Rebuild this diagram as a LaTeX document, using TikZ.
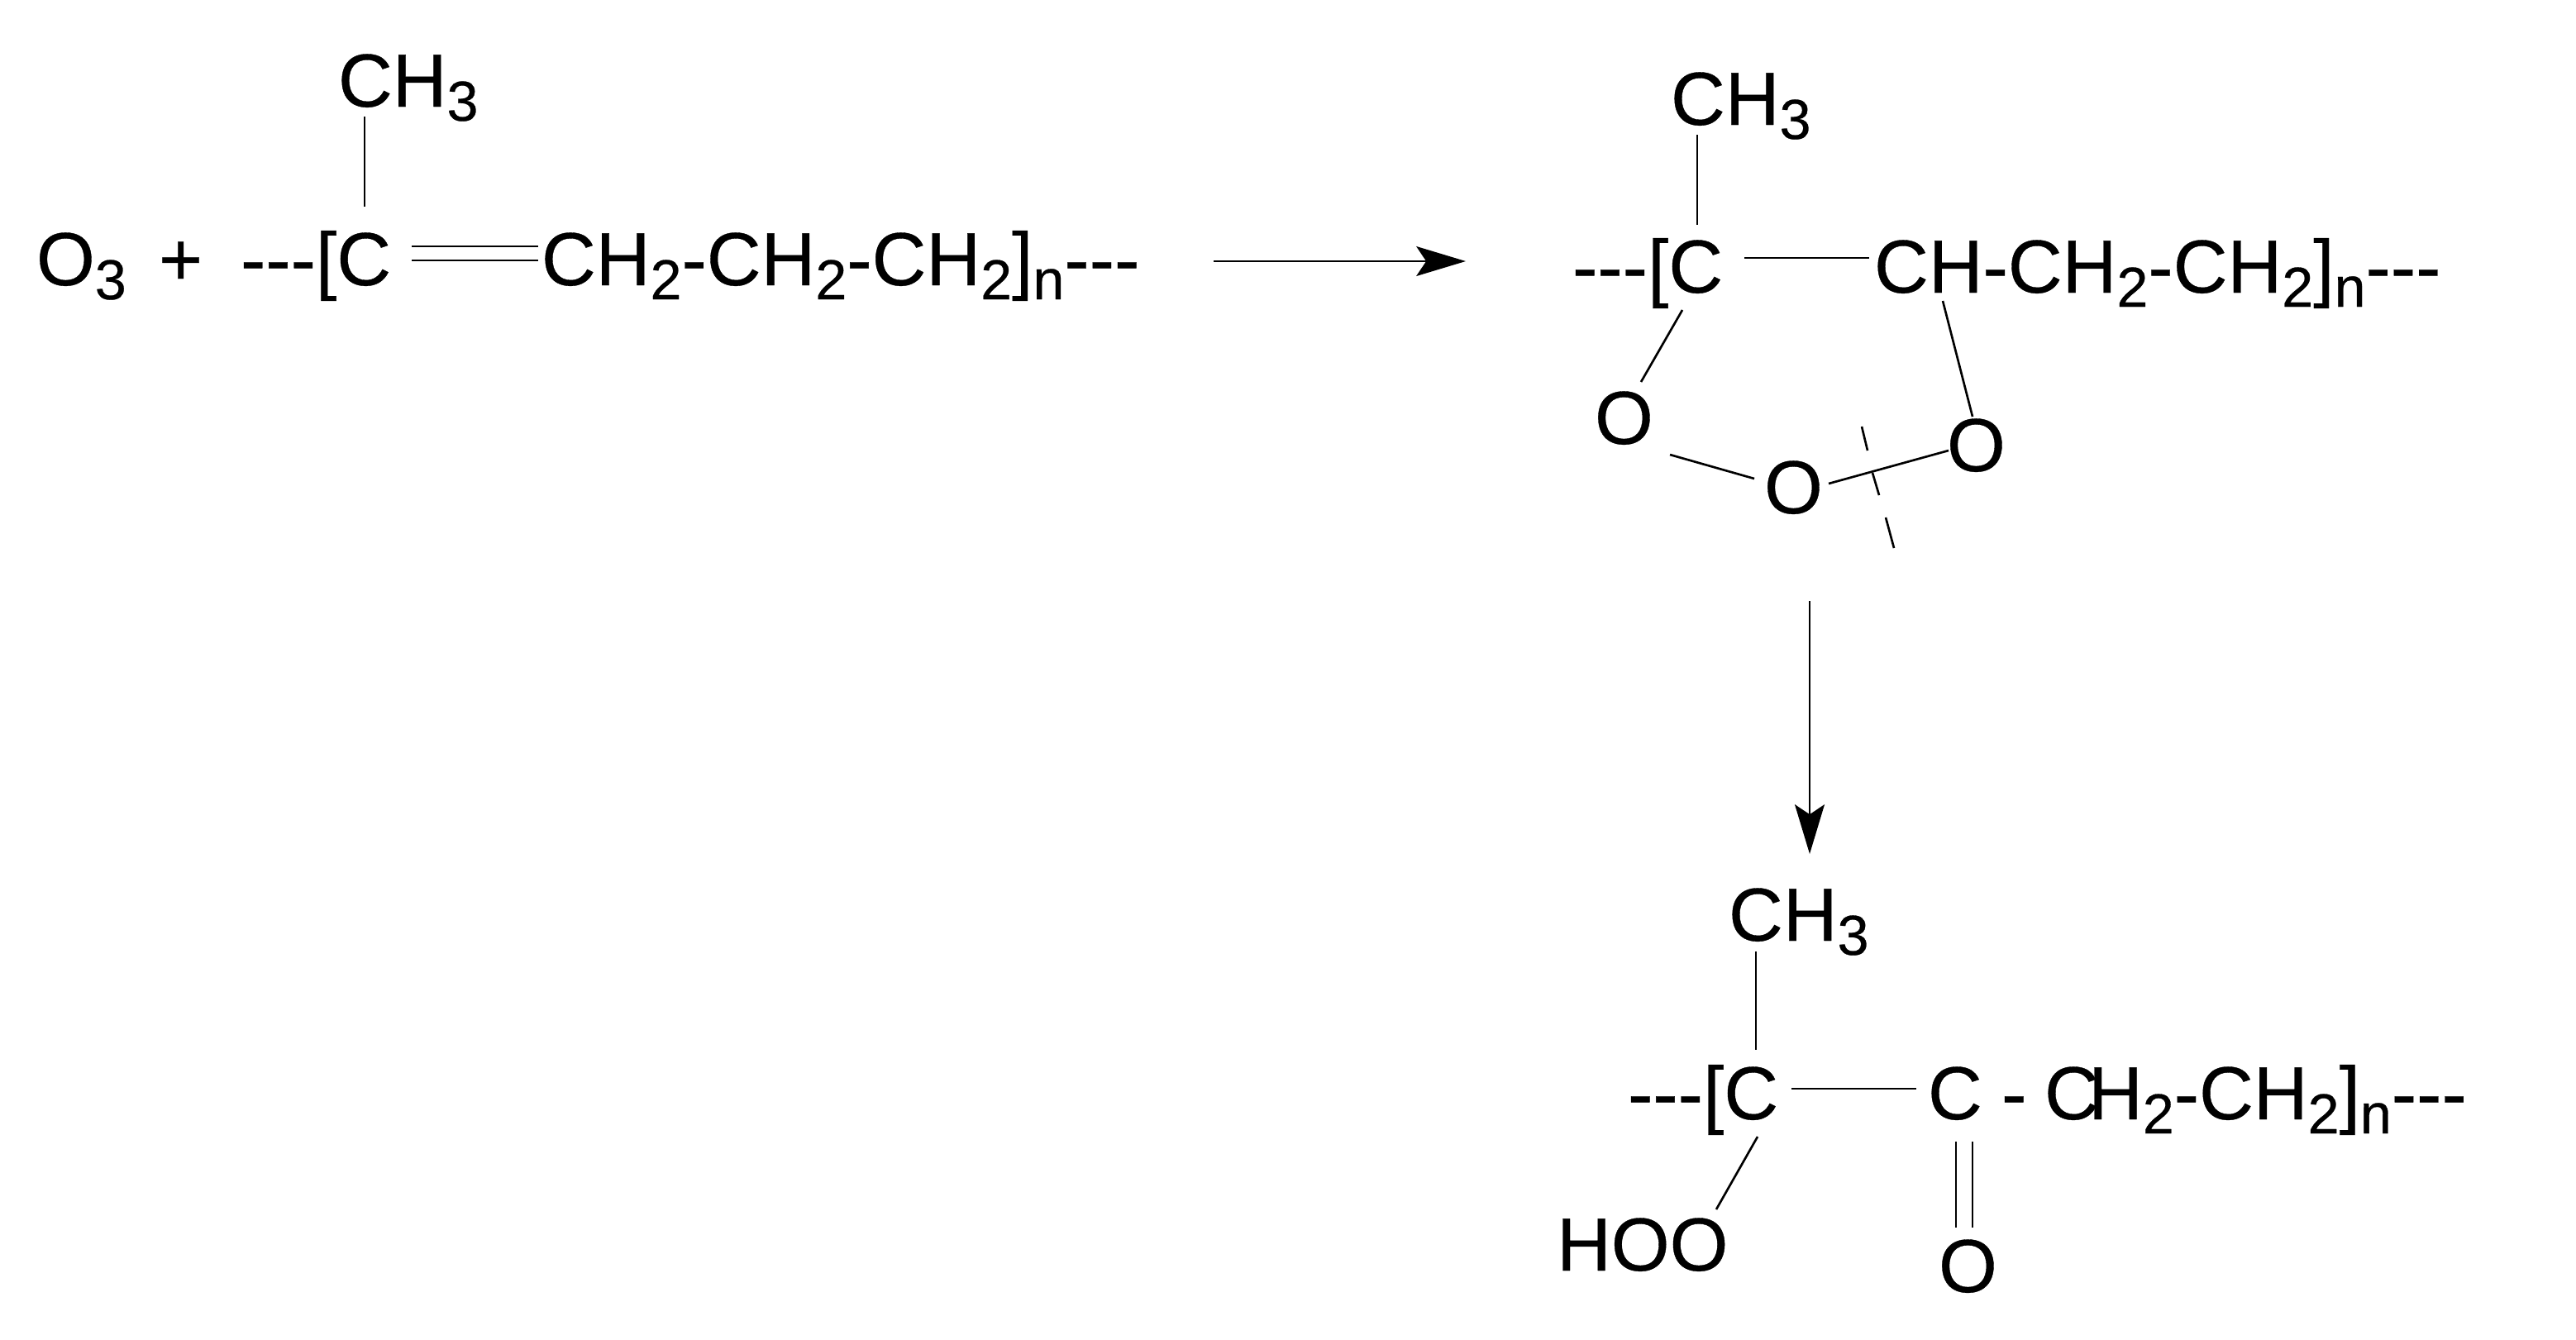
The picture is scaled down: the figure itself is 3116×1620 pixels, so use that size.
\documentclass[tikz,border=0pt]{standalone}
\usepackage{fontspec}
\setmainfont[FakeBold=0.4]{Liberation Sans}
\usetikzlibrary{arrows.meta}
\newcommand{\lowsub}[1]{\raisebox{-4.84pt}{\fontsize{19.4pt}{20pt}\selectfont #1}}
\newcommand{\tripledash}{-{}-{}-}
\tikzset{
  chem/.style={anchor=base west,inner sep=0pt,outer sep=0pt,font=\fontsize{25.9pt}{28pt}\selectfont},
  bond/.style={line width=0.75pt,black},
  rxn/.style={line width=0.75pt,black,-{Stealth[length=17pt,width=10.2pt,inset=3.4pt]}}
}
\begin{document}
\begin{tikzpicture}[x=0.01cm,y=-0.01cm]
\useasboundingbox (0,0) rectangle (3116,1620);
% --- first structure
\node[chem] (ozone) at (44,345) {O\lowsub{3}};
\node[chem] (plus) at (192,345) {+};
\node[chem] (aC) at (291,345) {\tripledash[C};
\node[chem] (achain) at (655,345) {CH\lowsub{2}-CH\lowsub{2}-CH\lowsub{2}]\lowsub{n}\tripledash};
\node[chem] (aMe) at (409,129) {CH\lowsub{3}};
\coordinate (a1) at (441,141); \coordinate (a2) at (441,250);
\draw[bond] (a1) -- (a2);
\coordinate (a3) at (498,298); \coordinate (a4) at (651,298);
\coordinate (a5) at (498,315); \coordinate (a6) at (651,315);
\draw[bond] (a3) -- (a4);
\draw[bond] (a5) -- (a6);
% --- arrow 1
\coordinate (r1) at (1468,316); \coordinate (r2) at (1773,316);
\draw[rxn] (r1) -- (r2);
% --- second structure
\node[chem] (bMe) at (2021,151) {CH\lowsub{3}};
\node[chem] (bC) at (1902,354) {\tripledash[C};
\node[chem] (bchain) at (2267,354) {CH-CH\lowsub{2}-CH\lowsub{2}]\lowsub{n}\tripledash};
\node[chem] (bO1) at (1929,537) {O};
\node[chem] (bO2) at (2134,621) {O};
\node[chem] (bO3) at (2355,570) {O};
\coordinate (b1) at (2053,163); \coordinate (b2) at (2053,272);
\draw[bond] (b1) -- (b2);
\coordinate (b3) at (2110,312); \coordinate (b4) at (2261,312);
\draw[bond] (b3) -- (b4);
\coordinate (b5) at (2035,375); \coordinate (b6) at (1985,462);
\draw[bond] (b5) -- (b6);
\coordinate (b7) at (2020,550); \coordinate (b8) at (2122,579);
\draw[bond] (b7) -- (b8);
\coordinate (b9) at (2212,585); \coordinate (b10) at (2357,545);
\draw[bond] (b9) -- (b10);
\coordinate (b11) at (2350,364); \coordinate (b12) at (2386,504);
\draw[bond] (b11) -- (b12);
\coordinate (c1) at (2252,516); \coordinate (c2) at (2259,545);
\coordinate (c3) at (2265,572); \coordinate (c4) at (2273,599);
\coordinate (c5) at (2281,626); \coordinate (c6) at (2291,663);
\draw[bond] (c1) -- (c2);
\draw[bond] (c3) -- (c4);
\draw[bond] (c5) -- (c6);
% --- arrow 2
\coordinate (r3) at (2189,727); \coordinate (r4) at (2189,1033);
\draw[rxn] (r3) -- (r4);
% --- third structure
\node[chem] (dMe) at (2091,1138) {CH\lowsub{3}};
\node[chem] (dC) at (1969,1354) {\tripledash[C};
\node[chem] (dC2) at (2332,1354) {C};
\node[chem] (dDash) at (2421,1354) {-};
\node[chem] (dC3) at (2473,1354) {C};
\node[chem] (dchain) at (2526,1354) {H\lowsub{2}-CH\lowsub{2}]\lowsub{n}\tripledash};
\node[chem] (dHOO) at (1883,1537) {HOO};
\node[chem] (dO) at (2345,1563) {O};
\coordinate (d1) at (2124,1151); \coordinate (d2) at (2124,1270);
\draw[bond] (d1) -- (d2);
\coordinate (d3) at (2167,1317); \coordinate (d4) at (2318,1317);
\draw[bond] (d3) -- (d4);
\coordinate (d5) at (2126,1375); \coordinate (d6) at (2076,1463);
\draw[bond] (d5) -- (d6);
\coordinate (d7) at (2366,1381); \coordinate (d8) at (2366,1485);
\coordinate (d9) at (2386,1381); \coordinate (d10) at (2386,1485);
\draw[bond] (d7) -- (d8);
\draw[bond] (d9) -- (d10);
\end{tikzpicture}
\end{document}
